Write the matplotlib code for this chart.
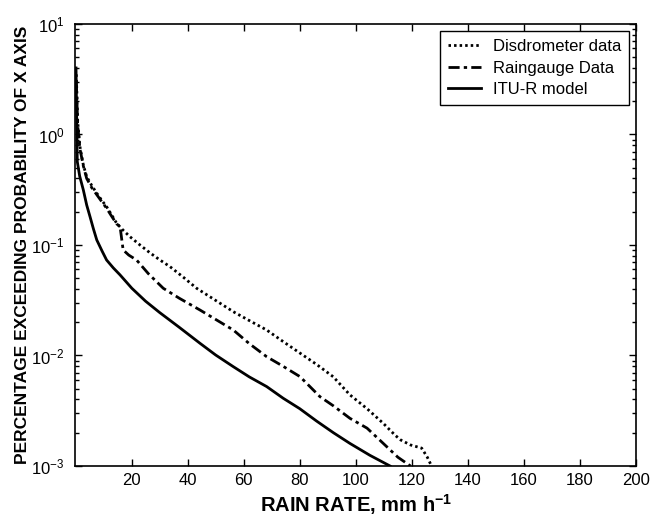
import matplotlib
matplotlib.use("Agg")
import matplotlib.pyplot as plt
from matplotlib.ticker import LogLocator, NullFormatter, FixedLocator

plt.rcParams['font.family'] = ['Liberation Sans', 'DejaVu Sans']
plt.rcParams['mathtext.fontset'] = 'custom'
plt.rcParams['mathtext.rm'] = 'Liberation Sans'
plt.rcParams['mathtext.bf'] = 'Liberation Sans:bold'

# Disdrometer data
disd_x = [0.3, 0.8, 1.6, 2.8, 4.0, 5.8, 7.6, 9.3, 11.1, 12.9, 14.7, 17.0, 19.4, 23.0,
          26.6, 30.0, 33.7, 38.5, 43.2, 50.0, 56.3, 62.0, 68.2, 74.0, 80.1, 86.0,
          91.9, 97.9, 104.0, 109.8, 114.0, 116.0, 119.5, 123.5, 125.5, 127.0]
disd_y = [3.5, 1.3, 0.776, 0.53, 0.415, 0.345, 0.294, 0.255, 0.222, 0.187, 0.157,
          0.136, 0.119, 0.100, 0.0848, 0.0735, 0.0637, 0.0510, 0.0406, 0.0315,
          0.0249, 0.0207, 0.0170, 0.0134, 0.0105, 0.0083, 0.00643, 0.0044, 0.0033,
          0.00243, 0.0019, 0.00172, 0.00155, 0.00145, 0.0012, 0.001]

# Raingauge data
rain_x = [0.3, 0.8, 1.6, 2.8, 4.0, 5.8, 7.6, 9.3, 11.1, 12.9, 14.7, 15.9, 17.0, 19.0,
          21.8, 26.0, 31.3, 37.0, 44.4, 50.0, 56.3, 62.0, 68.2, 74.0, 80.1, 87.2,
          92.0, 97.9, 104.0, 109.8, 115.0, 119.5]
rain_y = [3.0, 1.2, 0.74, 0.52, 0.40, 0.33, 0.285, 0.248, 0.215, 0.182, 0.155, 0.147,
          0.0902, 0.081, 0.0731, 0.055, 0.0406, 0.0330, 0.0258, 0.0212, 0.0170,
          0.0128, 0.00975, 0.0080, 0.00643, 0.00424, 0.0035, 0.0027, 0.0022, 0.0016,
          0.0012, 0.001]

# ITU-R model
itu_x = [0.2, 0.64, 1.5, 2.8, 4.0, 5.2, 6.4, 7.6, 9.5, 11.1, 13.5, 15.9, 20.1, 25.0,
         30.0, 37.0, 44.4, 50.0, 56.3, 62.0, 68.2, 74.1, 80.0, 86.0, 92.0, 97.9,
         105.0, 112.2]
itu_y = [4.0, 0.57, 0.42, 0.315, 0.23, 0.180, 0.140, 0.111, 0.088, 0.0731, 0.062,
         0.0536, 0.0406, 0.031, 0.0245, 0.018, 0.0129, 0.0101, 0.00792, 0.0064,
         0.00523, 0.0041, 0.0033, 0.00255, 0.0020, 0.0016, 0.00125, 0.001]

x_ticks = [20, 40, 60, 80, 100, 120, 140, 160, 180, 200]

fig = plt.figure(figsize=(6.62, 5.21), dpi=100)
ax = fig.add_axes([0.114, 0.1056, 0.847, 0.8484])

ax.plot(disd_x, disd_y, linestyle=(0, (0.9, 1.1)), color='black', lw=2.0,
        label='Disdrometer data')
ax.plot(rain_x, rain_y, linestyle=(0, (4, 1.5, 1.2, 1.5)), color='black', lw=2.0,
        label='Raingauge Data')
ax.plot(itu_x, itu_y, linestyle='-', color='black', lw=2.0, label='ITU-R model')

ax.set_yscale('log')
ax.set_xlim(0, 200)
ax.set_ylim(1e-3, 1e1)
ax.xaxis.set_major_locator(FixedLocator(x_ticks))
ax.yaxis.set_major_locator(LogLocator(base=10, numticks=10))
ax.yaxis.set_minor_locator(LogLocator(base=10, subs=range(2, 10), numticks=20))
ax.yaxis.set_minor_formatter(NullFormatter())

ax.tick_params(axis='both', which='both', direction='in', top=True, right=True,
               color='black', width=1.0)
ax.tick_params(axis='both', which='major', length=5, labelsize=12)
ax.tick_params(axis='y', which='major', pad=8)
ax.tick_params(axis='x', which='major', pad=5)
ax.tick_params(axis='y', which='minor', length=3)

for sp in ax.spines.values():
    sp.set_linewidth(1.2)

ax.set_xlabel('RAIN RATE, mm h$^{\\mathbf{-1}}$', fontsize=14.5, fontweight='bold', labelpad=3)
ax.set_ylabel('PERCENTAGE EXCEEDING PROBABILITY OF X AXIS', fontsize=12.5,
              fontweight='bold', labelpad=0.5)

leg = ax.legend(loc='upper right', fontsize=12, frameon=True, fancybox=False,
                edgecolor='black', framealpha=1, handlelength=2.0, handletextpad=0.7,
                borderpad=0.45, labelspacing=0.4, borderaxespad=0.45)
leg.get_frame().set_linewidth(1.0)

fig.savefig('out.png', dpi=100)
